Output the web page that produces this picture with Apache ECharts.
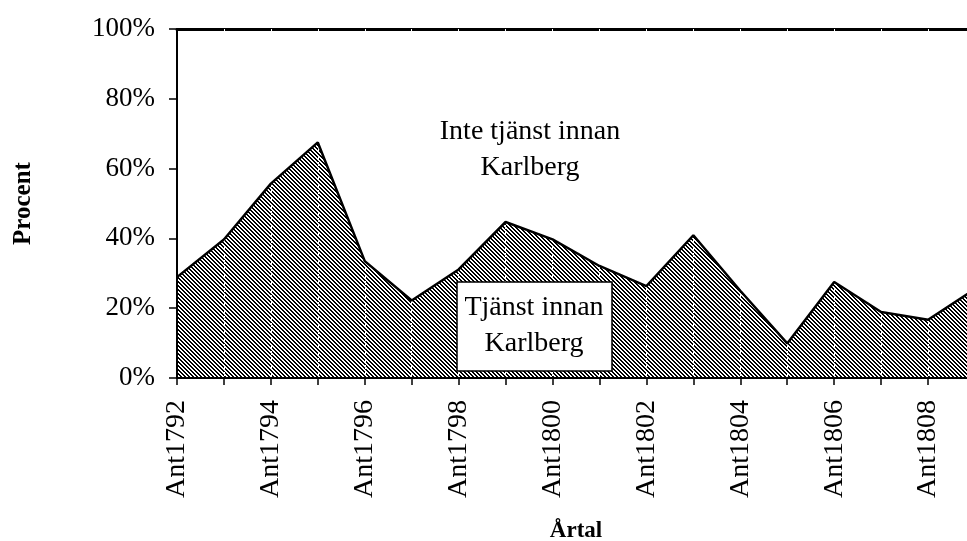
<!DOCTYPE html>
<html>
<head>
<meta charset="utf-8">
<script src="https://cdn.jsdelivr.net/npm/echarts@6/dist/echarts.min.js"></script>
<style>
  html, body { margin: 0; padding: 0; background: #fff; }
  #chart { width: 967px; height: 541px; }
</style>
</head>
<body>
<div id="chart"></div>
<script>
// share of cadets with service before Karlberg, per intake year
const years = ['Ant1792', 'Ant1793', 'Ant1794', 'Ant1795', 'Ant1796', 'Ant1797',
  'Ant1798', 'Ant1799', 'Ant1800', 'Ant1801', 'Ant1802', 'Ant1803',
  'Ant1804', 'Ant1805', 'Ant1806', 'Ant1807', 'Ant1808', 'Ant1809']
const shares = [28.9, 39.7, 55.7, 67.5, 33.5, 22.2, 31.1, 44.7, 39.7, 32.1, 26.3, 40.9,
  25.0, 9.9, 27.5, 18.9, 16.7, 25.5]
const yMin = 0
const yMax = 100
const yStep = 20

const serif = 'Liberation Serif'

// diagonal black/white hatch like the old printed chart
function hatch() {
  const n = 4
  const c = document.createElement('canvas')
  c.width = n
  c.height = n
  const ctx = c.getContext('2d')
  const img = ctx.createImageData(n, n)
  const shade = [0, 0, 255, 255]
  for (let y = 0; y < n; y++) {
    for (let x = 0; x < n; x++) {
      const v = shade[((x - y) % n + n) % n]
      const i = (y * n + x) * 4
      img.data[i] = v
      img.data[i + 1] = v
      img.data[i + 2] = v
      img.data[i + 3] = 255
    }
  }
  ctx.putImageData(img, 0, 0)
  return c
}

const chart = echarts.init(document.getElementById('chart'), null, { renderer: 'canvas' })

chart.setOption({
  animation: false,
  backgroundColor: '#fff',
  textStyle: { fontFamily: serif, color: '#000' },
  grid: { left: 177, top: 29, right: -8, bottom: 163, outerBoundsMode: 'none', containLabel: false },
  xAxis: [{
    type: 'category',
    data: years,
    boundaryGap: false,
    z: 3,
    axisLine: { lineStyle: { color: '#000', width: 2 } },
    axisTick: { interval: 0, length: 7, lineStyle: { color: '#000', width: 1.5 } },
    axisLabel: {
      interval: 1,
      rotate: 90,
      margin: 22,
      fontFamily: serif,
      fontSize: 28,
      color: '#000'
    },
    splitLine: {
      show: true,
      interval: 0,
      lineStyle: { color: '#fff', width: 1, type: [4, 3] }
    },
    name: 'Årtal',
    nameLocation: 'middle',
    nameGap: 142,
    nameTextStyle: { fontFamily: serif, fontSize: 23, fontWeight: 'bold', color: '#000' }
  }, {
    // top frame line
    type: 'category',
    data: years,
    position: 'top',
    boundaryGap: false,
    axisLine: { lineStyle: { color: '#000', width: 3 } },
    axisTick: { show: false },
    axisLabel: { show: false }
  }],
  yAxis: {
    type: 'value',
    min: yMin,
    max: yMax,
    interval: yStep,
    z: 5,
    axisLine: { show: true, lineStyle: { color: '#000', width: 2 } },
    axisTick: { show: true, length: 8, lineStyle: { color: '#000', width: 1.5 } },
    axisLabel: {
      formatter: '{value}%',
      margin: 22,
      fontFamily: serif,
      fontSize: 27,
      color: '#000'
    },
    splitLine: { show: false },
    name: 'Procent',
    nameLocation: 'middle',
    nameRotate: 90,
    nameGap: 141,
    nameTextStyle: { fontFamily: serif, fontSize: 25, fontWeight: 'bold', color: '#000' }
  },
  series: [{
    type: 'line',
    data: shares,
    symbol: 'none',
    z: 2,
    lineStyle: { width: 0 },
    areaStyle: { color: { image: hatch(), repeat: 'repeat' }, opacity: 1 }
  }, {
    type: 'line',
    data: shares,
    symbol: 'none',
    z: 4,
    lineStyle: { color: '#000', width: 2.5 }
  }],
  graphic: [{
    type: 'text',
    x: 530,
    y: 150,
    z: 10,
    style: {
      text: 'Inte tjänst innan\nKarlberg',
      font: '28px "Liberation Serif"',
      fill: '#000',
      align: 'center',
      verticalAlign: 'middle',
      lineHeight: 36
    }
  }, {
    type: 'rect',
    z: 10,
    shape: { x: 457, y: 282, width: 155, height: 89 },
    style: { fill: '#fff', stroke: '#000', lineWidth: 1.5 }
  }, {
    type: 'text',
    x: 534,
    y: 326,
    z: 11,
    style: {
      text: 'Tjänst innan\nKarlberg',
      font: '28px "Liberation Serif"',
      fill: '#000',
      align: 'center',
      verticalAlign: 'middle',
      lineHeight: 36
    }
  }]
})
</script>
</body>
</html>
